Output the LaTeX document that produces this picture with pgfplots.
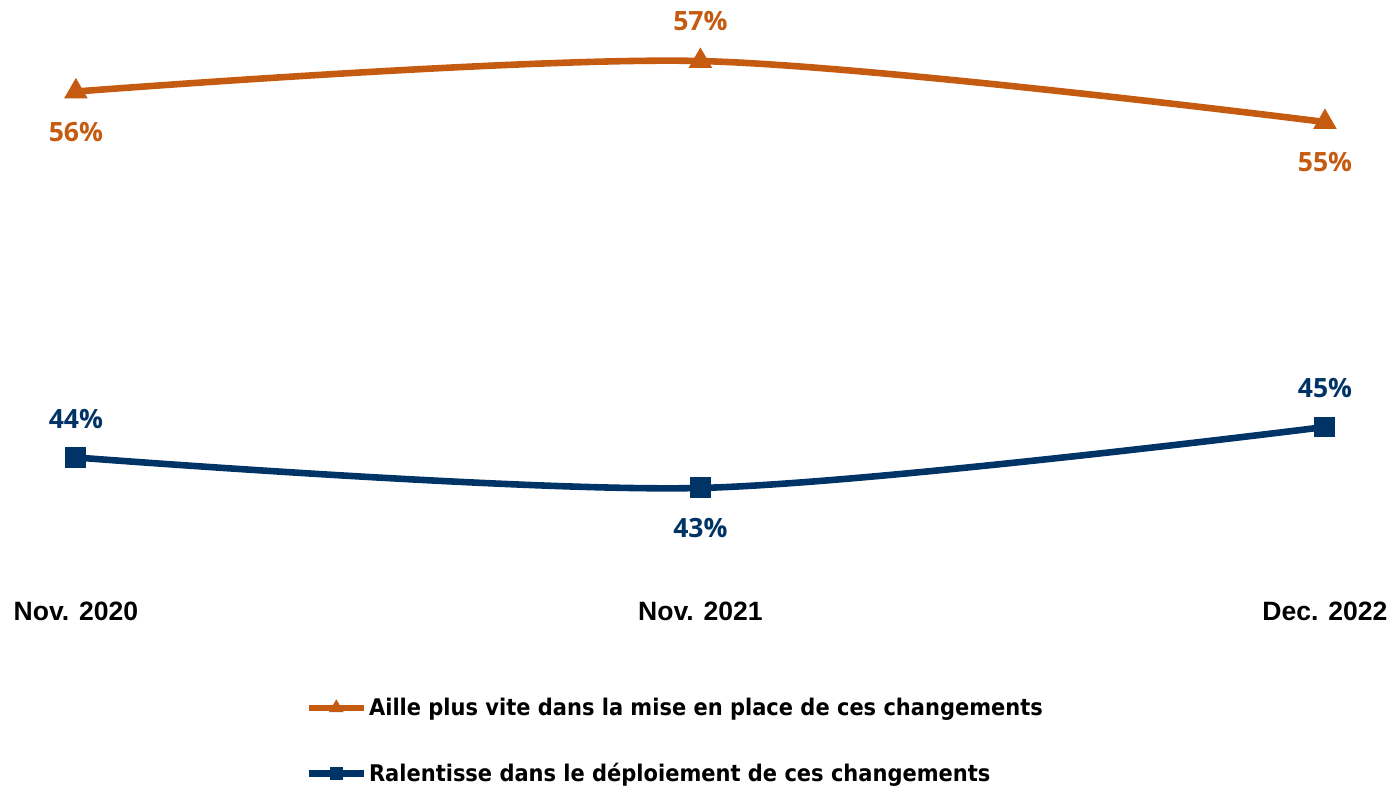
\documentclass[border=0pt]{standalone}
\usepackage{pgfplots}
\usepackage{pgfplotstable}
\pgfplotsset{compat=1.18}
\usepackage{fontspec}
\setmainfont{Liberation Sans}
\newfontfamily\lblfont{Open Sans}
\newfontfamily\legfont[FakeStretch=0.915]{DejaVu Sans}
\definecolor{orng}{RGB}{197,90,17}
\definecolor{navy}{RGB}{0,52,102}

\pgfplotstableread{
x y off
0 56 -20.5
1 57 20
2 55 -20
}\tA
\pgfplotstableread{
x y off
0 44 19.5
1 43 -20
2 45 19.5
}\tB

\begin{document}
\begin{tikzpicture}
\begin{axis}[
  scale only axis, width=697bp, height=393bp,
  xmin=-0.1215, xmax=2.105, ymin=33.285, ymax=58.995,
  axis line style={draw=none},
  ytick=\empty, xtick={0,1,2},
  xticklabels={Nov. 2020,Nov. 2021,Dec. 2022},
  major tick length=0pt,
  xticklabel style={anchor=center, yshift=86.5bp, font=\fontsize{13.3bp}{16bp}\selectfont\bfseries},
  clip=false,
  point meta=y,
  nodes near coords={\pgfmathprintnumber[assume math mode=true]{\pgfplotspointmeta}\%},
  visualization depends on={\thisrow{off} \as \off},
  every node near coord/.append style={anchor=center, yshift=\off bp, font=\lblfont\bfseries\fontsize{13.3bp}{16bp}\selectfont},
  legend style={at={(0.2195,0.1135)}, anchor=north west, draw=none, fill=none, inner sep=0pt,
    font=\legfont\bfseries\fontsize{11.5bp}{14bp}\selectfont, row sep=20.5bp,
    nodes={inner sep=1bp}},
  legend cell align=left,
  legend image code/.code={\draw[mark repeat=2,mark phase=2,#1, mark options={solid, line width=0.5bp, scale=0.6}] plot coordinates {(0bp,0bp)(13.75bp,0bp)(27.5bp,0bp)};},
]
\addplot[orng, line width=3.3bp, smooth, mark=triangle*, mark size=6.3bp, mark options={solid, line width=0.5bp},
  every node near coord/.append style={text=orng}] table[x=x,y=y] {\tA};
\addlegendentry{Aille plus vite dans la mise en place de ces changements}
\addplot[navy, line width=3.3bp, smooth, mark=square*, mark size=5bp, mark options={solid, line width=0.5bp},
  every node near coord/.append style={text=navy}] table[x=x,y=y] {\tB};
\addlegendentry{Ralentisse dans le déploiement de ces changements}
\end{axis}
\path (current axis.south west) rectangle (current axis.north east);
\end{tikzpicture}
\end{document}
